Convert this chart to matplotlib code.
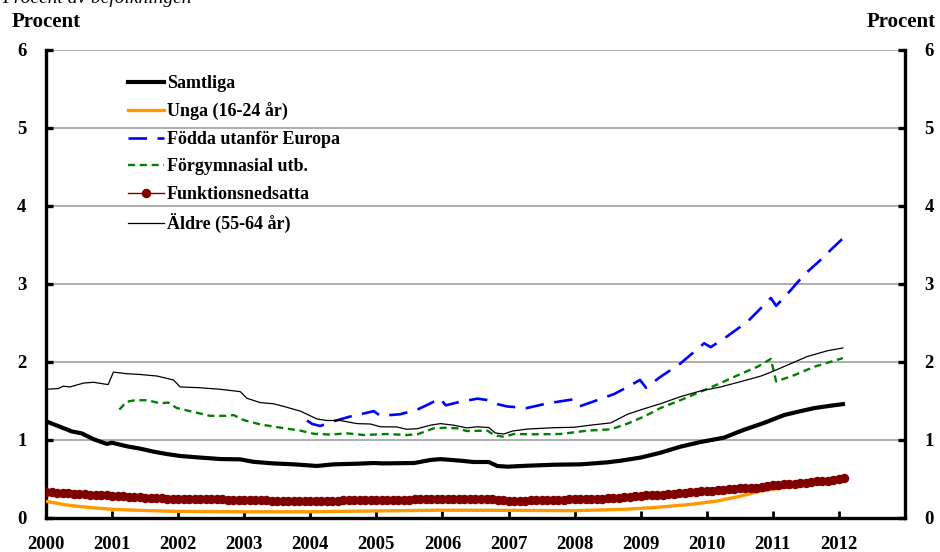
import matplotlib
matplotlib.use('Agg')
import matplotlib.pyplot as plt
import numpy as np

font = {'family': 'serif',
        'serif': ['Liberation Serif', 'DejaVu Serif'],
        'weight': 'bold',
        'size': 12}
matplotlib.rc('font', **font)

# --- data (decimal year, percent of population) ---
samtliga_t = [2000.0, 2000.21, 2000.39, 2000.54, 2000.72, 2000.92, 2001.0, 2001.22, 2001.42,
              2001.63, 2001.83, 2002.03, 2002.33, 2002.64, 2002.94, 2003.14, 2003.44, 2003.75,
              2004.1, 2004.35, 2004.71, 2004.96, 2005.1, 2005.57, 2005.82, 2005.97, 2006.27,
              2006.47, 2006.7, 2006.83, 2006.98, 2007.28, 2007.69, 2008.09, 2008.5, 2008.7,
              2009.0, 2009.3, 2009.6, 2009.91, 2010.26, 2010.56, 2010.87, 2011.17, 2011.37,
              2011.63, 2011.88, 2012.06]
samtliga_v = [1.24, 1.17, 1.11, 1.085, 1.01, 0.95, 0.965, 0.92, 0.89,
              0.85, 0.82, 0.795, 0.775, 0.756, 0.752, 0.72, 0.70, 0.688,
              0.667, 0.688, 0.696, 0.705, 0.70, 0.705, 0.744, 0.755, 0.735,
              0.718, 0.718, 0.667, 0.658, 0.67, 0.683, 0.688, 0.714, 0.735,
              0.775, 0.837, 0.914, 0.975, 1.03, 1.13, 1.22, 1.32, 1.36,
              1.41, 1.44, 1.46]

unga_t = [2000.0, 2000.31, 2000.67, 2001.02, 2001.42, 2001.93, 2002.94, 2003.95, 2004.96,
          2005.97, 2006.98, 2007.99, 2008.75, 2009.25, 2009.76, 2010.16, 2010.52, 2010.82,
          2011.17, 2011.42, 2011.68, 2012.0]
unga_v = [0.214, 0.167, 0.133, 0.111, 0.098, 0.086, 0.08, 0.08, 0.09,
          0.10, 0.098, 0.094, 0.111, 0.137, 0.175, 0.218, 0.282, 0.346,
          0.389, 0.419, 0.444, 0.49]

fodda_t = [2003.95, 2004.03, 2004.15, 2004.35, 2004.6, 2004.81, 2004.96, 2005.06, 2005.36,
           2005.62, 2005.82, 2005.96, 2006.05, 2006.27, 2006.53, 2006.7, 2006.83, 2006.98,
           2007.28, 2007.59, 2007.97, 2008.07, 2008.29, 2008.6, 2008.8, 2008.99, 2009.08,
           2009.3, 2009.6, 2009.96, 2010.06, 2010.31, 2010.62, 2010.97, 2011.05, 2011.27,
           2011.47, 2011.75, 2011.88, 2012.06]
fodda_v = [1.25, 1.205, 1.18, 1.24, 1.30, 1.34, 1.37, 1.31, 1.33,
           1.39, 1.47, 1.535, 1.445, 1.49, 1.53, 1.51, 1.46, 1.43,
           1.41, 1.47, 1.52, 1.43, 1.495, 1.59, 1.68, 1.77, 1.67,
           1.81, 1.98, 2.24, 2.19, 2.33, 2.52, 2.82, 2.72, 2.92,
           3.115, 3.33, 3.44, 3.585]

forgymn_t = [2001.11, 2001.22, 2001.35, 2001.53, 2001.73, 2001.85, 2001.98, 2002.18, 2002.48,
             2002.74, 2002.84, 2002.99, 2003.24, 2003.55, 2003.85, 2004.05, 2004.3, 2004.56,
             2004.81, 2005.16, 2005.46, 2005.62, 2005.87, 2006.07, 2006.22, 2006.37, 2006.68,
             2006.78, 2006.93, 2007.08, 2007.38, 2007.79, 2008.19, 2008.55, 2008.8, 2009.05,
             2009.3, 2009.6, 2009.91, 2010.21, 2010.52, 2010.77, 2010.97, 2011.05, 2011.32,
             2011.63, 2012.06]
forgymn_v = [1.39, 1.49, 1.51, 1.51, 1.47, 1.48, 1.41, 1.37, 1.31,
             1.31, 1.32, 1.256, 1.20, 1.158, 1.12, 1.08, 1.07, 1.085,
             1.064, 1.077, 1.064, 1.073, 1.15, 1.158, 1.15, 1.115, 1.12,
             1.064, 1.04, 1.077, 1.073, 1.077, 1.12, 1.137, 1.21, 1.30,
             1.41, 1.51, 1.62, 1.73, 1.85, 1.94, 2.04, 1.75, 1.83,
             1.94, 2.05]

# monthly, Jan 2000 - Feb 2012
funktion_v = [0.33, 0.33, 0.32, 0.32, 0.32, 0.31, 0.31, 0.31, 0.30, 0.30, 0.29, 0.29,
              0.28, 0.28, 0.28, 0.27, 0.27, 0.27, 0.26, 0.26, 0.26, 0.26, 0.25, 0.25,
              0.25, 0.25, 0.25, 0.24, 0.24, 0.24, 0.24, 0.24, 0.24, 0.23, 0.23, 0.23,
              0.23, 0.23, 0.23, 0.23, 0.23, 0.22, 0.22, 0.22, 0.22, 0.22, 0.22, 0.22,
              0.22, 0.22, 0.22, 0.22, 0.22, 0.22, 0.23, 0.23, 0.23, 0.23, 0.23, 0.23,
              0.23, 0.23, 0.23, 0.23, 0.23, 0.23, 0.23, 0.24, 0.24, 0.24, 0.24, 0.25,
              0.25, 0.25, 0.25, 0.25, 0.24, 0.24, 0.24, 0.24, 0.24, 0.24, 0.23, 0.23,
              0.22, 0.22, 0.22, 0.22, 0.23, 0.23, 0.23, 0.23, 0.23, 0.23, 0.23, 0.24,
              0.24, 0.24, 0.24, 0.25, 0.25, 0.25, 0.26, 0.26, 0.26, 0.27, 0.27, 0.28,
              0.28, 0.29, 0.29, 0.30, 0.30, 0.31, 0.31, 0.32, 0.32, 0.33, 0.33, 0.34,
              0.35, 0.35, 0.36, 0.36, 0.37, 0.37, 0.38, 0.38, 0.39, 0.39, 0.40, 0.41,
              0.42, 0.42, 0.43, 0.43, 0.44, 0.45, 0.45, 0.46, 0.47, 0.47, 0.48, 0.49,
              0.50, 0.51]
funktion_t = 2000 + np.arange(len(funktion_v)) / 12

aldre_t = [2000.0, 2000.19, 2000.26, 2000.36, 2000.57, 2000.72, 2000.94, 2001.02, 2001.22,
           2001.42, 2001.68, 2001.93, 2002.03, 2002.33, 2002.64, 2002.94, 2003.04, 2003.24,
           2003.44, 2003.6, 2003.85, 2004.1, 2004.25, 2004.45, 2004.71, 2004.91, 2005.06,
           2005.31, 2005.46, 2005.62, 2005.82, 2005.97, 2006.17, 2006.37, 2006.53, 2006.7,
           2006.8, 2006.93, 2007.06, 2007.28, 2007.69, 2007.99, 2008.24, 2008.55, 2008.8,
           2009.05, 2009.3, 2009.6, 2009.91, 2010.21, 2010.52, 2010.82, 2011.0, 2011.22,
           2011.52, 2011.83, 2012.06]
aldre_v = [1.65, 1.66, 1.69, 1.68, 1.73, 1.74, 1.71, 1.87, 1.85,
           1.84, 1.82, 1.77, 1.68, 1.67, 1.65, 1.62, 1.535, 1.48,
           1.465, 1.43, 1.37, 1.27, 1.25, 1.25, 1.21, 1.205, 1.17,
           1.167, 1.137, 1.145, 1.19, 1.21, 1.19, 1.155, 1.17, 1.16,
           1.09, 1.077, 1.115, 1.14, 1.158, 1.163, 1.19, 1.22, 1.33,
           1.40, 1.465, 1.555, 1.63, 1.68, 1.75, 1.82, 1.88, 1.96,
           2.07, 2.145, 2.18]

years = list(range(2000, 2013))
yticks = [0, 1, 2, 3, 4, 5, 6]

fig = plt.figure(figsize=(9.4, 5.52), dpi=100)
ax = fig.add_axes([46/940, 1 - 518/552, 859/940, 468/552])

ax.plot(samtliga_t, samtliga_v, color='black', lw=3.0, label='Samtliga', zorder=3)
ax.plot(unga_t, unga_v, color='#ff9900', lw=2.4, label='Unga (16-24 år)', zorder=3)
ax.plot(fodda_t, fodda_v, color='#0000ff', lw=1.9, dashes=(7, 4),
        label='Födda utanför Europa', zorder=3)
ax.plot(forgymn_t, forgymn_v, color='#008000', lw=1.7, dashes=(3, 2),
        label='Förgymnasial utb.', zorder=3)
ax.plot(funktion_t, funktion_v, color='#800000', lw=1.0, marker='o', ms=5.8,
        mec='#800000', label='Funktionsnedsatta', zorder=3)
ax.plot(aldre_t, aldre_v, color='black', lw=0.9, label='Äldre (55-64 år)', zorder=3)

ax.set_xlim(2000, 2013)
ax.set_ylim(0, 6)
ax.set_xticks(years)
ax.set_xticklabels([str(y) for y in years], fontsize=13.5)
ax.set_yticks(yticks)
ax.set_yticklabels([str(y) for y in yticks], fontsize=13.5)
ax.yaxis.grid(True, color='#a0a0a0', lw=1.2, zorder=1)
ax.set_axisbelow(True)

for side in ['left', 'right', 'bottom']:
    ax.spines[side].set_linewidth(2.4)
ax.spines['top'].set_visible(False)

ax.tick_params(axis='y', direction='in', length=5, width=2.4, left=True, right=True,
               labelleft=True, labelright=True, pad=14)
ax.tick_params(axis='x', direction='in', length=5, width=2.0, pad=13)

fig.text(46/940, 1 - 22/552, 'Procent', ha='center', va='center', fontsize=15)
fig.text(901/940, 1 - 22/552, 'Procent', ha='center', va='center', fontsize=15)
fig.text(0.002, 1 - 3/552, 'Procent av befolkningen', ha='left', va='baseline',
         fontsize=14, style='italic', weight='normal')

ax.legend(loc='upper left', bbox_to_anchor=((128 - 46)/859, (518 - 75)/468),
          frameon=False, fontsize=13, handlelength=2.0, handletextpad=0.15,
          labelspacing=0.58, borderpad=0, borderaxespad=0)

fig.savefig('out.png', dpi=100)
